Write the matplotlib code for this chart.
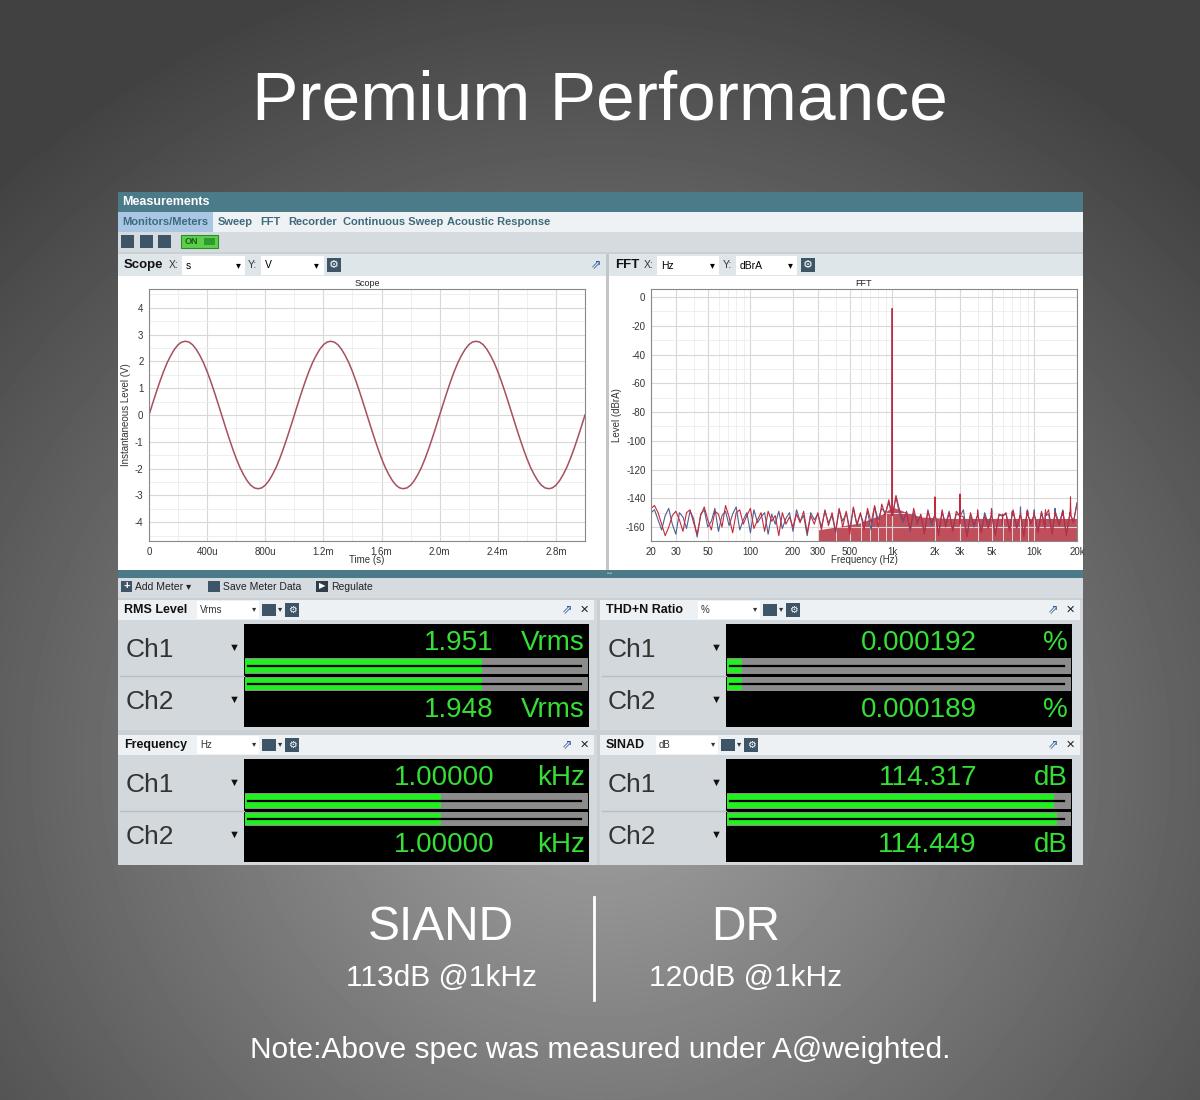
import numpy as np
import matplotlib
matplotlib.use("Agg")
import matplotlib.pyplot as plt
from matplotlib.patches import Rectangle
from matplotlib.ticker import FixedLocator, NullFormatter

plt.rcParams['font.family'] = ['Liberation Sans', 'DejaVu Sans']
plt.rcParams['axes.unicode_minus'] = False

# ---------------- data ----------------
scope_t_us = list(range(0, 3001, 25))
scope_v = [0.00, 0.43, 0.85, 1.25, 1.62, 1.95, 2.22, 2.45, 2.62, 2.72, 2.75, 2.72, 2.62, 2.45, 2.22, 1.95, 1.62, 1.25, 0.85, 0.43,
           0.00, -0.43, -0.85, -1.25, -1.62, -1.95, -2.22, -2.45, -2.62, -2.72, -2.75, -2.72, -2.62, -2.45, -2.22, -1.95, -1.62, -1.25, -0.85, -0.43,
           0.00, 0.43, 0.85, 1.25, 1.62, 1.95, 2.22, 2.45, 2.62, 2.72, 2.75, 2.72, 2.62, 2.45, 2.22, 1.95, 1.62, 1.25, 0.85, 0.43,
           0.00, -0.43, -0.85, -1.25, -1.62, -1.95, -2.22, -2.45, -2.62, -2.72, -2.75, -2.72, -2.62, -2.45, -2.22, -1.95, -1.62, -1.25, -0.85, -0.43,
           0.00, 0.43, 0.85, 1.25, 1.62, 1.95, 2.22, 2.45, 2.62, 2.72, 2.75, 2.72, 2.62, 2.45, 2.22, 1.95, 1.62, 1.25, 0.85, 0.43,
           0.00, -0.43, -0.85, -1.25, -1.62, -1.95, -2.22, -2.45, -2.62, -2.72, -2.75, -2.72, -2.62, -2.45, -2.22, -1.95, -1.62, -1.25, -0.85, -0.43,
           0.00]
scope_xticks = [0, 400, 800, 1200, 1600, 2000, 2400, 2800]
scope_xlabels = ['0', '400u', '800u', '1.2m', '1.6m', '2.0m', '2.4m', '2.8m']

noise_ch1 = [-147, -145, -150, -158, -166, -160, -152, -149, -155, -163,
             -150, -148, -157, -165, -152, -146, -155, -162, -149, -151,
             -160, -145, -153, -164, -150, -148, -158, -152, -147, -161,
             -155, -150, -163, -149, -156, -152, -166, -150, -158, -153,
             -160, -151, -157, -149, -164, -152, -158, -150, -162, -148,
             -159, -150, -163, -147, -160, -149, -165, -146, -158, -150,
             -162, -147, -157, -145, -160, -144, -152, -141, -146, -138,
             -148, -155, -150, -162, -147, -158, -151, -165, -149, -157,
             -152, -166, -148, -160, -150, -163, -149, -158, -153, -167,
             -150, -159, -148, -164, -152, -161, -149, -166, -151, -158,
             -150, -163, -148, -160, -153, -167, -149, -158, -151, -164,
             -150, -161, -148, -165, -152, -159, -149, -166, -150, -157, -143]
noise_ch2 = [-150, -148, -155, -162, -152, -147, -158, -165, -150, -153,
             -161, -149, -154, -167, -151, -148, -160, -156, -147, -163,
             -152, -149, -159, -151, -146, -162, -155, -150, -164, -148,
             -157, -153, -150, -165, -151, -158, -149, -161, -154, -150,
             -163, -148, -156, -152, -166, -150, -155, -151, -160, -149,
             -157, -152, -164, -148, -156, -150, -161, -147, -159, -151,
             -158, -149, -162, -146, -155, -147, -150, -143, -148, -139,
             -151, -157, -149, -163, -150, -156, -152, -164, -148, -159,
             -153, -165, -150, -158, -149, -162, -151, -157, -148, -166,
             -152, -160, -149, -163, -150, -158, -148, -165, -152, -159,
             -151, -162, -149, -161, -150, -166, -148, -157, -152, -163,
             -149, -160, -151, -164, -150, -158, -148, -165, -151, -156, -144]
spike_f = [1000, 2000, 3000, 4000, 5000, 6000, 7000, 8000, 9000, 10000, 12000, 14000, 16000, 18000]
spike_ch1 = [-8, -139, -137, -149, -148, -152, -150, -151, -149, -150, -148, -150, -149, -139]
spike_ch2 = [-8, -141, -140, -150, -147, -151, -149, -146, -150, -148, -149, -147, -150, -147]
band_f = [300, 600, 850, 1000, 1200, 1600, 2500, 20000]
band_top = [-162, -157, -151, -146, -149, -153, -154, -154]
fft_xticks = [20, 30, 50, 100, 200, 300, 500, 1000, 2000, 3000, 5000, 10000, 20000]
fft_xlabels = ['20', '30', '50', '100', '200', '300', '500', '1k', '2k', '3k', '5k', '10k', '20k']
fft_yticks = [0, -20, -40, -60, -80, -100, -120, -140, -160]

meters = [  # title, unit, ch1 text, ch2 text, unit text, bar fraction ch1, ch2
    ('RMS Level', 'Vrms', '1.951', '1.948', 'Vrms', 0.69, 0.69),
    ('THD+N Ratio', '%', '0.000192', '0.000189', '%', 0.045, 0.045),
    ('Frequency', 'Hz', '1.00000', '1.00000', 'kHz', 0.57, 0.57),
    ('SINAD', 'dB', '114.317', '114.449', 'dB', 0.95, 0.96),
]
tabs = ['Monitors/Meters', 'Sweep', 'FFT', 'Recorder', 'Continuous Sweep', 'Acoustic Response']

# ---------------- figure ----------------
W, H = 1200, 1100
fig = plt.figure(figsize=(12, 11), dpi=100)
ax = fig.add_axes([0, 0, 1, 1])
ax.set_xlim(0, W); ax.set_ylim(H, 0); ax.axis('off')

yy, xx = np.mgrid[0:H, 0:W]
r = np.sqrt(((xx - 600) / 720.0) ** 2 + ((yy - 760) / 680.0) ** 2)
bg = np.clip(0.64 - 0.32 * r, 0.26, 0.65)
ax.imshow(bg, cmap='gray', vmin=0, vmax=1, extent=(0, W, H, 0), zorder=0, aspect='auto')

def rect(x0, y0, x1, y1, c, z=1, ec='none', lw=0):
    ax.add_patch(Rectangle((x0, y0), x1 - x0, y1 - y0, fc=c, ec=ec, lw=lw, zorder=z))

def txt(x, y, s, **kw):
    kw.setdefault('zorder', 5)
    ax.text(x, y, s, **kw)

def sub_axes(x0, y0, x1, y1):
    return fig.add_axes([x0 / W, 1 - y1 / H, (x1 - x0) / W, (y1 - y0) / H])

txt(600, 102, 'Premium Performance', color='white', fontsize=50, ha='center', va='center')

# window
rect(118, 192, 1083, 865, '#c9cfd3')
rect(118, 192, 1083, 212, '#4b7a89')
txt(122, 202, 'Measurements', color='white', fontsize=9, fontweight='bold', va='center')
rect(118, 212, 1083, 232, '#eef2f4')
rect(118, 212, 213, 232, '#a9c6e4')
tx = [122, 218, 260, 288, 343, 447]
for x, s in zip(tx, tabs):
    txt(x, 222, s, color='#3f6a7a', fontsize=8, fontweight='bold', va='center')
rect(118, 232, 1083, 252, '#d6dbdf')
for x in [121, 140, 158]:
    rect(x, 235, x + 13, 248, '#3d5566')
rect(181, 235, 218, 248, '#5ccf4a', ec='#2f8a2a', lw=0.8)
txt(185, 241.5, 'ON', color='#1c5a1c', fontsize=6.5, fontweight='bold', va='center')
rect(204, 238, 215, 245, '#2f9a2f')

def panel_header(x0, x1, y0, title):
    rect(x0, y0, x1, y0 + 22, '#dfe6ea')
    txt(x0 + 6, y0 + 11, title, fontsize=9.5, fontweight='bold', va='center', color='#111')

# scope panel
rect(118, 254, 606, 570, 'white')
panel_header(118, 606, 254, 'Scope')
txt(169, 265, 'X:', fontsize=7.5, va='center', color='#333')
rect(182, 256, 245, 275, 'white'); txt(186, 266, 's', fontsize=7.5, va='center')
txt(236, 265, '▾', fontsize=7, va='center')
txt(248, 265, 'Y:', fontsize=7.5, va='center', color='#333')
rect(261, 256, 324, 275, 'white'); txt(265, 265, 'V', fontsize=7.5, va='center')
txt(314, 265, '▾', fontsize=7, va='center')
rect(327, 258, 341, 272, '#3d5566')
txt(334, 265, '⚙', fontsize=8, ha='center', va='center', color='white')
txt(596, 265, '⇗', fontsize=9, ha='center', va='center', color='#2a5a9a')

# fft panel
rect(609, 254, 1083, 570, 'white')
panel_header(609, 1083, 254, 'FFT')
txt(644, 265, 'X:', fontsize=7.5, va='center', color='#333')
rect(657, 256, 719, 275, 'white'); txt(661, 266, 'Hz', fontsize=7.5, va='center')
txt(710, 265, '▾', fontsize=7, va='center')
txt(723, 265, 'Y:', fontsize=7.5, va='center', color='#333')
rect(736, 256, 797, 275, 'white'); txt(740, 266, 'dBrA', fontsize=7.5, va='center')
txt(788, 265, '▾', fontsize=7, va='center')
rect(801, 258, 815, 272, '#3d5566')
txt(808, 265, '⚙', fontsize=8, ha='center', va='center', color='white')
rect(606, 254, 609, 570, '#c0c6ca')

# scope plot
sa = sub_axes(149, 289, 585, 541)
sa.plot(scope_t_us, scope_v, color='#a5505e', lw=1.1)
sa.set_xlim(0, 3000); sa.set_ylim(-4.7, 4.7)
sa.set_xticks(scope_xticks); sa.set_xticklabels(scope_xlabels)
sa.set_yticks(list(range(-4, 5)))
sa.xaxis.set_minor_locator(FixedLocator(list(range(200, 3000, 400))))
sa.yaxis.set_minor_locator(FixedLocator([v + 0.5 for v in range(-5, 5)]))
sa.grid(True, which='major', color='#d8d8d8', lw=0.8)
sa.grid(True, which='minor', color='#ececec', lw=0.6)
sa.tick_params(which='both', labelsize=7, length=0, colors='#333', pad=4)
for s in sa.spines.values():
    s.set_color('#888'); s.set_linewidth(0.8)
sa.set_title('Scope', fontsize=6.5, pad=2, color='#222')
sa.set_xlabel('Time (s)', fontsize=7, labelpad=-1, color='#333')
sa.set_ylabel('Instantaneous Level (V)', fontsize=7, labelpad=3, color='#333')

# fft plot
fa = sub_axes(651, 289, 1077, 541)
nf = np.geomspace(20, 20000, len(noise_ch1))

def merge(base, sl):
    f = list(nf); v = list(base)
    for sf, lv in zip(spike_f, sl):
        f += [sf * 0.995, sf, sf * 1.005]; v += [-152, lv, -152]
    o = np.argsort(f)
    return np.array(f)[o], np.array(v)[o]

fa.fill_between(band_f, band_top, -175, color='#b3303e', alpha=0.85, lw=0)
f2, v2 = merge(noise_ch2, spike_ch2)
fa.plot(f2, v2, color='#4f5f90', lw=0.8)
f1, v1 = merge(noise_ch1, spike_ch1)
fa.plot(f1, v1, color='#c42a3c', lw=0.8)
fa.set_xscale('log')
fa.set_xlim(20, 20000); fa.set_ylim(-169.7, 5.6)
fa.set_xticks(fft_xticks); fa.set_xticklabels(fft_xlabels)
fa.xaxis.set_minor_locator(FixedLocator([40, 60, 70, 80, 90, 400, 600, 700, 800, 900, 4000, 6000, 7000, 8000, 9000]))
fa.xaxis.set_minor_formatter(NullFormatter())
fa.set_yticks(fft_yticks)
fa.yaxis.set_minor_locator(FixedLocator(list(range(-170, 5, 10))))
fa.grid(True, which='major', color='#d8d8d8', lw=0.8)
fa.grid(True, which='minor', color='#ececec', lw=0.6)
fa.tick_params(which='both', labelsize=7, length=0, colors='#333', pad=4)
for s in fa.spines.values():
    s.set_color('#888'); s.set_linewidth(0.8)
fa.set_title('FFT', fontsize=6.5, pad=2, color='#222')
fa.set_xlabel('Frequency (Hz)', fontsize=7, labelpad=-1, color='#333')
fa.set_ylabel('Level (dBrA)', fontsize=7, labelpad=3, color='#333')

# divider & meter toolbar
rect(118, 570, 1083, 578, '#4b7a89')
txt(610, 574, '•••', fontsize=4, ha='center', va='center', color='#ccc')
rect(118, 578, 1083, 598, '#d6dbdf')
rect(121, 581, 132, 592, '#3d5566')
txt(126.5, 586.5, '+', color='white', fontsize=8, ha='center', va='center', fontweight='bold')
txt(135, 587, 'Add Meter ▾', fontsize=7.5, va='center', color='#222')
rect(208, 581, 220, 592, '#3d5566')
txt(223, 587, 'Save Meter Data', fontsize=7.5, va='center', color='#222')
rect(316, 581, 328, 592, '#2d3d4a')
txt(322, 586.5, '▶', fontsize=6, ha='center', va='center', color='white')
txt(331, 587, 'Regulate', fontsize=7.5, va='center', color='#222')

# meters
boxes = [(118, 597, 600), (600, 1083, 600), (118, 597, 735), (600, 1083, 735)]
for (x0, x1, y0), m in zip(boxes, meters):
    title, unit, v1t, v2t, ut, b1, b2 = m
    rect(x0, y0, x1, y0 + 130, '#d3d8dc')
    rect(x0, y0, x1 - 3, y0 + 20, '#eef1f3')
    txt(x0 + 6, y0 + 10, title, fontsize=9, fontweight='bold', va='center', color='#111')
    tw = {'RMS Level': 73, 'THD+N Ratio': 92, 'Frequency': 73, 'SINAD': 50}[title]
    bx = x0 + 6 + tw
    rect(bx, y0 + 1, bx + 62, y0 + 19, 'white')
    txt(bx + 3, y0 + 10, unit, fontsize=7, va='center', color='#333')
    txt(bx + 55, y0 + 10, '▾', fontsize=6, va='center', color='#333')
    rect(bx + 65, y0 + 4, bx + 79, y0 + 16, '#3d5566')
    txt(bx + 81, y0 + 10, '▾', fontsize=6, va='center', color='#333')
    rect(bx + 88, y0 + 3, bx + 102, y0 + 17, '#3d5566')
    txt(bx + 95, y0 + 10, '⚙', fontsize=7, ha='center', va='center', color='white')
    txt(x1 - 30, y0 + 10, '⇗', fontsize=9, ha='center', va='center', color='#2a5a9a')
    txt(x1 - 13, y0 + 10, '✕', fontsize=8, ha='center', va='center', color='#222')
    lx = x0 + 126
    dx1 = x1 - 8 if x0 < 600 else x1 - 11
    ax.plot([x0 + 2, lx], [y0 + 76, y0 + 76], color='#b8bec2', lw=1, zorder=3)
    txt(x0 + 8, y0 + 50, 'Ch1', fontsize=19, va='center', color='#333')
    txt(x0 + 8, y0 + 102, 'Ch2', fontsize=19, va='center', color='#333')
    txt(lx - 4, y0 + 48, '▼', fontsize=8, ha='right', va='center', color='#111')
    txt(lx - 4, y0 + 100, '▼', fontsize=8, ha='right', va='center', color='#111')
    rect(lx, y0 + 24, dx1, y0 + 127, 'black', z=2)
    green = '#35df35'
    for (yb0, yb1, frac) in [(y0 + 58, y0 + 74, b1), (y0 + 77, y0 + 91, b2)]:
        rect(lx + 1, yb0, dx1 - 1, yb1, '#8c8c8c', z=3)
        rect(lx + 1, yb0 + 1, lx + 1 + (dx1 - lx - 2) * frac, yb1 - 1, '#22ee22', z=4)
        ax.plot([lx + 4, dx1 - 8], [(yb0 + yb1) / 2] * 2, color='black', lw=1.6, zorder=4.5)
    txt(dx1 - 95, y0 + 43, v1t, fontsize=20, ha='right', va='center', color=green)
    txt(dx1 - 4, y0 + 43, ut, fontsize=20, ha='right', va='center', color=green)
    txt(dx1 - 95, y0 + 110, v2t, fontsize=20, ha='right', va='center', color=green)
    txt(dx1 - 4, y0 + 110, ut, fontsize=20, ha='right', va='center', color=green)

# bottom specs
txt(441, 928, 'SIAND', fontsize=34.5, ha='center', va='center', color='white')
txt(441, 978, '113dB @1kHz', fontsize=21.5, ha='center', va='center', color='white')
txt(746, 928, 'DR', fontsize=34.5, ha='center', va='center', color='white')
txt(746, 978, '120dB @1kHz', fontsize=21.5, ha='center', va='center', color='white')
ax.plot([594, 594], [897, 1000], color='white', lw=2, zorder=5)
txt(600, 1050, 'Note:Above spec was measured under A@weighted.', fontsize=21.5,
    ha='center', va='center', color='white')

fig.savefig('out.png', dpi=100)
